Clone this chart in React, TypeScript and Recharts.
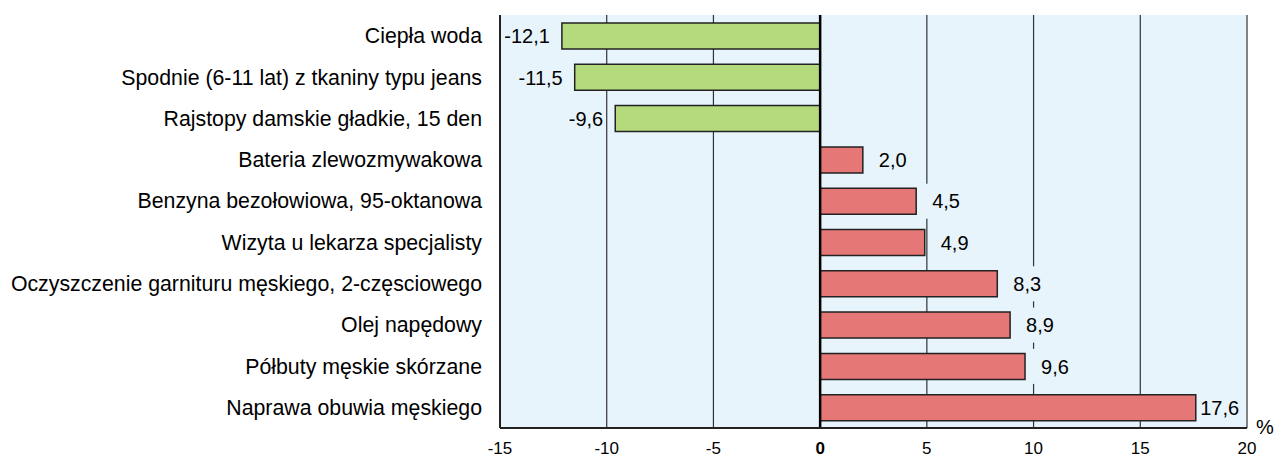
import { BarChart, Bar, XAxis, YAxis, CartesianGrid, Cell, LabelList, ReferenceLine } from 'recharts';

const categories = [
  'Ciepła woda',
  'Spodnie (6-11 lat) z tkaniny typu jeans',
  'Rajstopy damskie gładkie, 15 den',
  'Bateria zlewozmywakowa',
  'Benzyna bezołowiowa, 95-oktanowa',
  'Wizyta u lekarza specjalisty',
  'Oczyszczenie garnituru męskiego, 2-częsciowego',
  'Olej napędowy',
  'Półbuty męskie skórzane',
  'Naprawa obuwia męskiego',
];

const changes = [-12.1, -11.5, -9.6, 2.0, 4.5, 4.9, 8.3, 8.9, 9.6, 17.6];

const xTicks = [-15, -10, -5, 0, 5, 10, 15, 20];

const data = categories.map((name, i) => ({ name, value: changes[i] }));

const BG = '#E8F4FB';
const GREEN = '#B5D97D';
const RED = '#E57777';
const FONT = '"Liberation Sans", Arial, sans-serif';

const fmt = (v: number) => v.toFixed(1).replace('.', ',');

// tick labels; the last one also carries the unit sign
const XTick = ({ x, y, payload }: any) => (
  <g>
    <text
      x={x}
      y={y}
      dy="0.71em"
      textAnchor="middle"
      fontSize={17}
      fontFamily={FONT}
      fontWeight={payload.value === 0 ? 'bold' : 'normal'}
      fill="#000"
    >
      {payload.value}
    </text>
    {payload.value === xTicks[xTicks.length - 1] && (
      <text x={x + 18} y={y - 15} dy="0.36em" textAnchor="middle" fontSize={20} fontFamily={FONT} fill="#000">
        %
      </text>
    )}
  </g>
);

const ValueLabel = ({ x, y, width, height, value }: any) => {
  const left = Math.min(x, x + width);
  const right = Math.max(x, x + width);
  const cy = y + height / 2;
  const str = fmt(value);
  const w = str.length * 10.2;
  if (value < 0) {
    return (
      <text x={left - 12} y={cy} dy="0.36em" textAnchor="end" fontSize={20} fontFamily={FONT} fill="#000">
        {str}
      </text>
    );
  }
  const perUnit = (right - left) / value;
  const plotRight = left + 20 * perUnit;
  const tx = Math.min(right + 16, plotRight - w - 6);
  const bx = Math.max(right + 2, tx - 10);
  const bw = Math.min(plotRight - 2, tx + w + 10) - bx;
  return (
    <g>
      <rect x={bx} y={cy - 17.5} width={bw} height={35} fill={BG} />
      <text x={tx} y={cy} dy="0.36em" textAnchor="start" fontSize={20} fontFamily={FONT} fill="#000">
        {str}
      </text>
    </g>
  );
};

export default function App() {
  return (
    <div
      style={{
        position: 'absolute',
        left: 0,
        top: 0,
        width: 1274,
        height: 458,
        background: '#fff',
        fontFamily: FONT,
      }}
    >
      <BarChart
        width={1274}
        height={458}
        data={data}
        layout="vertical"
        margin={{ top: 15, right: 27, bottom: 0, left: 0 }}
      >
        <CartesianGrid horizontal={false} stroke="#333" strokeWidth={1.2} fill={BG} fillOpacity={1} />
        <XAxis
          type="number"
          domain={[-15, 20]}
          ticks={xTicks}
          height={30}
          axisLine={{ stroke: '#222', strokeWidth: 2 }}
          tickLine={false}
          tickSize={0}
          tickMargin={14}
          tick={<XTick />}
        />
        <XAxis
          xAxisId="top"
          orientation="top"
          type="number"
          domain={[-15, 20]}
          height={0}
          axisLine={{ stroke: '#999', strokeWidth: 1.5 }}
          tick={false}
          tickLine={false}
        />
        <YAxis
          type="category"
          dataKey="name"
          width={500}
          axisLine={{ stroke: '#222', strokeWidth: 2 }}
          tickLine={false}
          tickSize={0}
          tickMargin={18}
          tick={{ fontSize: 21.3, fill: '#000', fontFamily: FONT }}
          interval={0}
        />
        <YAxis
          yAxisId="right"
          orientation="right"
          type="category"
          dataKey="name"
          width={0}
          axisLine={{ stroke: '#222', strokeWidth: 2 }}
          tick={false}
          tickLine={false}
        />
        <Bar dataKey="value" barSize={26} stroke="#222" strokeWidth={1.5} isAnimationActive={false}>
          {data.map((d, i) => (
            <Cell key={`cell-${i}`} fill={d.value < 0 ? GREEN : RED} />
          ))}
          <LabelList dataKey="value" content={<ValueLabel />} />
        </Bar>
        <ReferenceLine x={0} stroke="#000" strokeWidth={2.5} />
      </BarChart>
    </div>
  );
}
